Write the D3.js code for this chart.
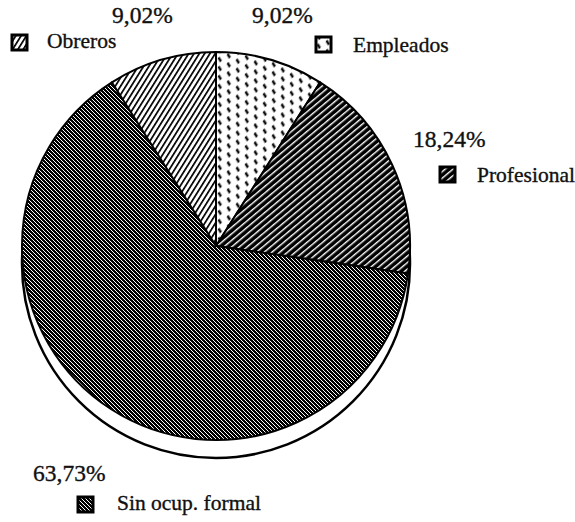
<!DOCTYPE html>
<html>
<head>
<meta charset="utf-8">
<script src="https://cdn.jsdelivr.net/npm/d3@7/dist/d3.min.js"></script>
<style>
  html, body { margin: 0; background: #fff; }
  svg { display: block; }
</style>
</head>
<body>
<div id="chart"></div>
<script>
// datos del gráfico (sentido horario desde las 12)
const categories = ['Empleados', 'Profesional', 'Sin ocup. formal', 'Obreros'];
const shares = [9.02, 18.24, 63.73, 9.02];
const shareLabels = ['9,02%', '18,24%', '63,73%', '9,02%'];
const patternKeys = ['emp', 'prof', 'sin', 'obr'];

// posiciones de etiquetas (layout, no datos)
const labelLayout = [
    { px: 252, py: 23,  sx: 316, sy: 37,  tx: 353, ty: 52 },
    { px: 413, py: 147, sx: 440, sy: 167, tx: 477, ty: 182 },
    { px: 33,  py: 481, sx: 78,  sy: 497, tx: 117, ty: 510 },
    { px: 112, py: 23,  sx: 12,  sy: 35,  tx: 47,  ty: 48 }
];

const serif = "'Liberation Serif', serif";
const width = 575, height = 522;
const cx = 216, cy = 246, radius = 194, drop = 18;

const svg = d3.select('#chart').append('svg')
    .attr('width', width)
    .attr('height', height);

const defs = svg.append('defs');

// Obreros: rayas finas negras sobre blanco
const pObr = defs.append('pattern').attr('id', 'pat-obr')
    .attr('patternUnits', 'userSpaceOnUse')
    .attr('width', 4.5).attr('height', 10)
    .attr('patternTransform', 'rotate(32)');
pObr.append('rect').attr('width', 4.5).attr('height', 10).attr('fill', '#fff');
pObr.append('rect').attr('x', 0).attr('width', 1.7).attr('height', 10).attr('fill', '#000');

// Profesional: negro con rayas blancas
const pProf = defs.append('pattern').attr('id', 'pat-prof')
    .attr('patternUnits', 'userSpaceOnUse')
    .attr('width', 5).attr('height', 10)
    .attr('patternTransform', 'rotate(50)');
pProf.append('rect').attr('width', 5).attr('height', 10).attr('fill', '#000');
pProf.append('rect').attr('x', 0).attr('width', 1.4).attr('height', 10).attr('fill', '#fff');

// Sin ocupación: trama fina tipo tablero, algo oscura
const pSin = defs.append('pattern').attr('id', 'pat-sin')
    .attr('patternUnits', 'userSpaceOnUse')
    .attr('width', 4).attr('height', 4);
pSin.append('rect').attr('width', 4).attr('height', 4).attr('fill', '#fff');
for (let x = 0; x < 4; x++) {
    for (let y = 0; y < 4; y++) {
        const dark = (x + y) % 2 === 0 || ((x - y + 8) % 4 === 1);
        if (dark) {
            pSin.append('rect').attr('x', x).attr('y', y)
                .attr('width', 1).attr('height', 1).attr('fill', '#000');
        }
    }
}

// Empleados: guiones cortos "\" sobre blanco
const pEmp = defs.append('pattern').attr('id', 'pat-emp')
    .attr('patternUnits', 'userSpaceOnUse')
    .attr('width', 9).attr('height', 9)
    .attr('patternTransform', 'skewY(-22)');
pEmp.append('rect').attr('width', 9).attr('height', 9).attr('fill', '#fff');
pEmp.append('line')
    .attr('x1', 2.5).attr('y1', 1.5).attr('x2', 5).attr('y2', 6.5)
    .attr('stroke', '#000').attr('stroke-width', 2).attr('stroke-linecap', 'butt');

// sombra (efecto 3D)
svg.append('circle')
    .attr('cx', cx).attr('cy', cy + drop).attr('r', radius)
    .attr('fill', '#fff')
    .attr('stroke', '#000')
    .attr('stroke-width', 2.5);

const pie = d3.pie().sort(null).value(d => d);
const arcs = pie(shares);
const arc = d3.arc().innerRadius(0).outerRadius(radius);

const g = svg.append('g').attr('transform', `translate(${cx},${cy})`);

g.selectAll('.slice')
    .data(arcs)
    .join('path')
    .attr('class', 'slice')
    .attr('d', arc)
    .attr('fill', (d, i) => `url(#pat-${patternKeys[i]})`)
    .attr('stroke', '#000')
    .attr('stroke-width', 2)
    .attr('stroke-linejoin', 'round');

// etiquetas y leyenda
const labels = svg.selectAll('.lbl')
    .data(categories)
    .join('g')
    .attr('class', 'lbl');

labels.append('text')
    .attr('x', (d, i) => labelLayout[i].px)
    .attr('y', (d, i) => labelLayout[i].py)
    .style('font-family', serif)
    .attr('font-size', '23.5px')
    .attr('fill', '#111')
    .attr('stroke', '#111')
    .attr('stroke-width', 0.35)
    .text((d, i) => shareLabels[i]);

labels.append('rect')
    .attr('x', (d, i) => labelLayout[i].sx)
    .attr('y', (d, i) => labelLayout[i].sy)
    .attr('width', 15).attr('height', 15)
    .attr('fill', (d, i) => `url(#pat-${patternKeys[i]})`)
    .attr('stroke', '#000')
    .attr('stroke-width', 3);

labels.append('text')
    .attr('x', (d, i) => labelLayout[i].tx)
    .attr('y', (d, i) => labelLayout[i].ty)
    .style('font-family', serif)
    .attr('font-size', '21.5px')
    .attr('fill', '#111')
    .attr('stroke', '#111')
    .attr('stroke-width', 0.35)
    .text(d => d);
</script>
</body>
</html>
